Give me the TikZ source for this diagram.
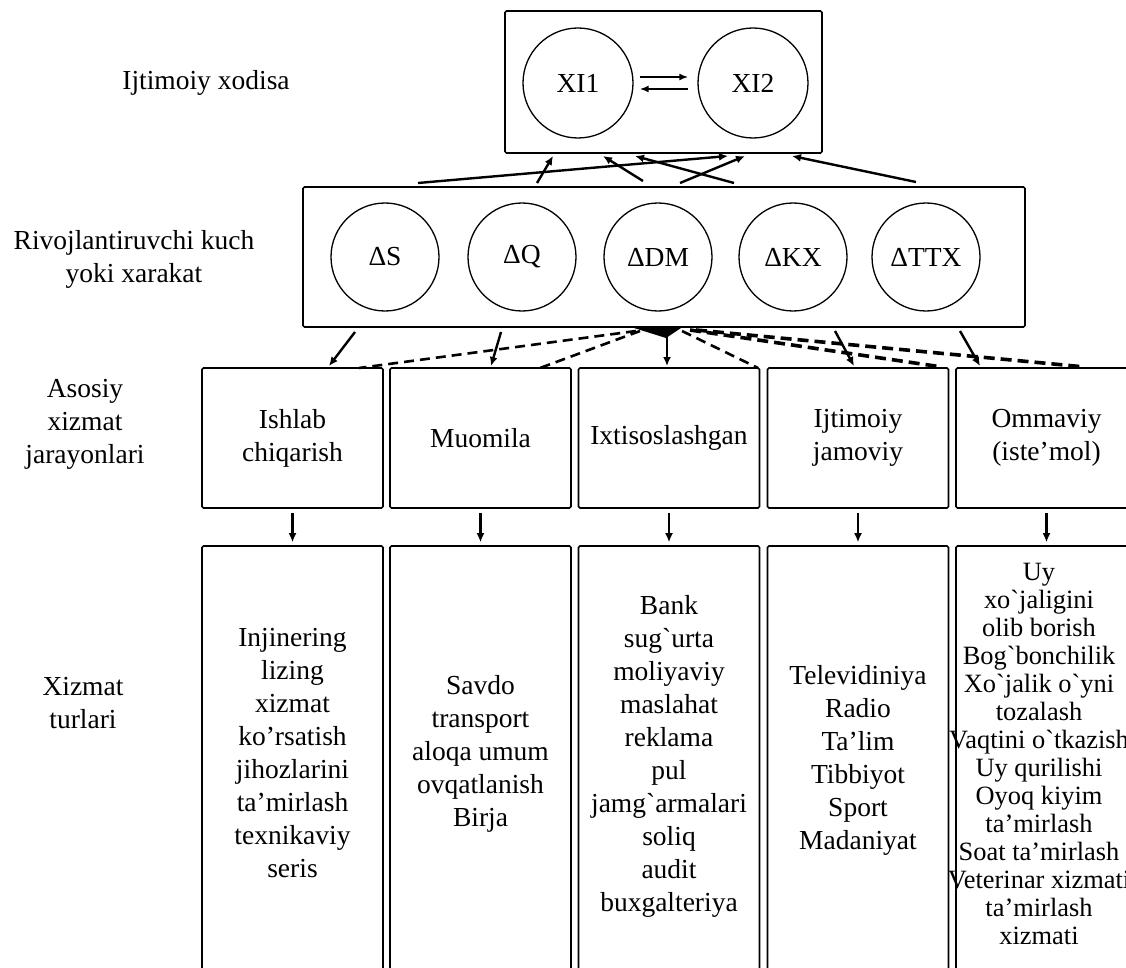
\documentclass[tikz,border=0pt]{standalone}
\usepackage{fontspec}
\setmainfont{Liberation Serif}
\usetikzlibrary{arrows.meta}
\begin{document}
\begin{tikzpicture}[x=1pt,y=-1pt,
  every node/.style={font=\fontsize{27.5}{33}\selectfont},
  box/.style={draw, line width=1.6pt, rounded corners=1.5pt, inner sep=0pt},
  circ/.style={draw, circle, line width=1.3pt, minimum size=108pt, inner sep=0pt},
  arr/.style={line width=2.4pt, -{Latex[length=9pt,width=8pt]}},
  harr/.style={line width=2.5pt, -{Latex[length=9pt,width=7pt]}},
  dline/.style={line width=2.6pt, dash pattern=on 10pt off 6pt},
  dthick/.style={line width=3.6pt, dash pattern=on 11pt off 6pt},
  lbl/.style={align=center, inner sep=0pt}
]
\clip (0,0) rectangle (1126,968);

% left labels
\node[lbl] (l1) at (206,83) {Ijtimoiy xodisa};
\node[lbl] (l2) at (134,259) {Rivojlantiruvchi kuch\\yoki xarakat};
\node[lbl] (l3) at (85,424) {Asosiy\\xizmat\\jarayonlari};
\node[lbl] (l4) at (83,703) {Xizmat\\turlari};

% top box
\node[box, minimum width=317pt, minimum height=142pt] (top) at (663.5,82) {};
\node[circ, minimum size=110pt] (xi1) at (578,83) {XI1};
\node[circ, minimum size=110pt] (xi2) at (753,83) {XI2};
\draw[harr] ([xshift=6pt,yshift=6pt]xi1.east) -- ([xshift=-9pt,yshift=6pt]xi2.west);
\draw[harr] ([xshift=-9pt,yshift=-6pt]xi2.west) -- ([xshift=6pt,yshift=-6pt]xi1.east);

% middle box
\node[box, minimum width=722pt, minimum height=140pt] (mid) at (664,257) {};
\node[circ] (cs) at (385,257) {ΔS};
\node[circ] (cq) at (522,257) {ΔQ};
\node[circ] (cdm) at (658,257) {ΔDM};
\node[circ] (ckx) at (793,257) {ΔKX};
\node[circ] (cttx) at (926,257) {ΔTTX};

% arrows middle -> top
\coordinate (u1s) at (418,183); \coordinate (u1e) at (728,156);
\coordinate (u2s) at (537,183); \coordinate (u2e) at (553,156);
\coordinate (u3s) at (643,181); \coordinate (u3e) at (603,156);
\coordinate (u4s) at (734,183); \coordinate (u4e) at (635,156);
\coordinate (u5s) at (680,183); \coordinate (u5e) at (745,156);
\coordinate (u6s) at (916,182); \coordinate (u6e) at (792,156);
\foreach \i in {1,...,6} {\draw[arr] (u\i s) -- (u\i e);}

% process boxes
\foreach \n/\x in {a1/292.5, a2/480.5, a3/669, a4/858, a5/1046.5} {
  \node[box, minimum width=181pt, minimum height=140pt] (\n) at (\x,438) {};
}
\node[lbl] (p1) at (a1) {Ishlab\\chiqarish};
\node[lbl] (p2) at (a2) {Muomila};
\node[lbl] (p3) at (a3) {Ixtisoslashgan};
\node[lbl] (p4) at (a4) {Ijtimoiy\\jamoviy};
\node[lbl] (p5) at (a5) {Ommaviy\\(iste’mol)};

% service boxes
\foreach \n/\x in {b1/292.5, b2/480.5, b3/669, b4/858, b5/1046.5} {
  \node[box, minimum width=181pt, minimum height=454pt] (\n) at (\x,773) {};
}
\foreach \i in {1,...,5} {\draw[arr] ([yshift=-4pt]a\i.south) -- ([yshift=3pt]b\i.north);}

\node[lbl] (t1) at (292.5,753) {Injinering\\lizing\\xizmat\\ko’rsatish\\jihozlarini\\ta’mirlash\\texnikaviy\\seris};
\node[lbl] (t2) at (480.5,754) {Savdo\\transport\\aloqa umum\\ovqatlanish\\Birja};
\node[lbl] (t3) at (669,756) {Bank\\sug\textasciigrave urta\\moliyaviy\\maslahat\\reklama\\pul\\jamg\textasciigrave armalari\\soliq\\audit\\buxgalteriya};
\node[lbl] (t4) at (858,760) {Televidiniya\\Radio\\Ta’lim\\Tibbiyot\\Sport\\Madaniyat};
\node[lbl, font=\fontsize{26.4}{28}\selectfont] (t5) at (1039,754) {Uy\\xo\textasciigrave jaligini\\olib borish\\Bog\textasciigrave bonchilik\\Xo\textasciigrave jalik o\textasciigrave yni\\tozalash\\Vaqtini o\textasciigrave tkazish\\Uy qurilishi\\Oyoq kiyim\\ta’mirlash\\Soat ta’mirlash\\Veterinar xizmati\\ta’mirlash\\xizmati};

% arrows middle -> process (solid)
\coordinate (s1s) at (355,332); \coordinate (s1e) at (329,366);
\coordinate (s2s) at (501,332); \coordinate (s2e) at (491,366);
\coordinate (s3s) at (667,330); \coordinate (s3e) at (667,366);
\coordinate (s4s) at (835,331); \coordinate (s4e) at (854,366);
\coordinate (s5s) at (960,331); \coordinate (s5e) at (980,366);
\foreach \i in {1,...,5} {\draw[arr] (s\i s) -- (s\i e);}

% dashed connectors
\coordinate (d1s) at (636,331); \coordinate (d1e) at (359,368);
\coordinate (d2s) at (640,331); \coordinate (d2e) at (540,368);
\coordinate (d3s) at (682,331); \coordinate (d3e) at (758,368);
\coordinate (d4s) at (690,330); \coordinate (d4e) at (942,367);
\coordinate (d5s) at (696,330); \coordinate (d5e) at (1085,367);
\draw[dline] (d1s) -- (d1e);
\draw[dline] (d2s) -- (d2e);
\draw[dline] (d3s) -- (d3e);
\draw[dthick] (d4s) -- (d4e);
\draw[dthick] (d5s) -- (d5e);
\fill (634,328) -- (681,328) -- (666,338) -- cycle;
\end{tikzpicture}
\end{document}
